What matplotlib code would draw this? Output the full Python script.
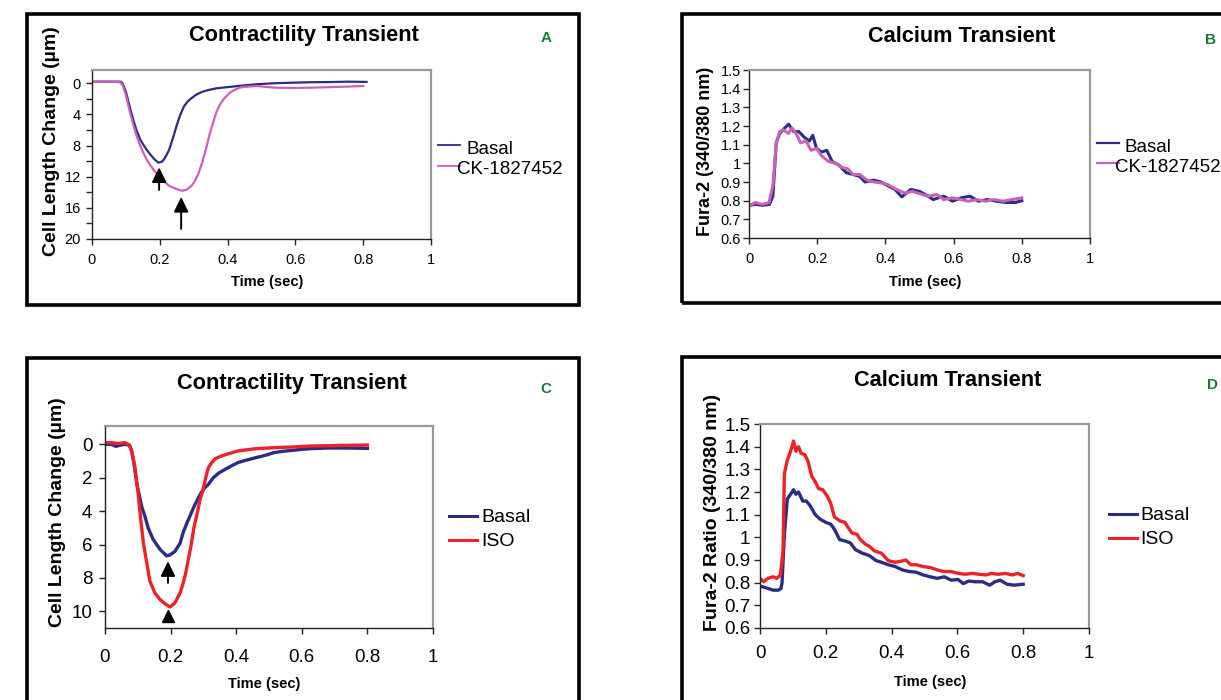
import matplotlib
matplotlib.use('Agg')
import matplotlib.pyplot as plt
from matplotlib.patches import Rectangle
from matplotlib.lines import Line2D

plt.rcParams['font.family'] = ['Liberation Sans', 'DejaVu Sans']

# ---------------- data ----------------
# Panel A: contractility, Basal vs CK-1827452
tA_basal = [0, 0.02, 0.04, 0.06, 0.084, 0.09, 0.1, 0.11, 0.121, 0.131, 0.142, 0.153, 0.164,
            0.175, 0.185, 0.196, 0.205, 0.212, 0.22, 0.228, 0.239, 0.25, 0.26, 0.271, 0.281,
            0.292, 0.31, 0.325, 0.345, 0.367, 0.4, 0.432, 0.485, 0.539, 0.6, 0.646, 0.7, 0.753, 0.81]
vA_basal = [-0.2, -0.2, -0.2, -0.2, -0.2, 0.0, 1.1, 2.8, 4.6, 6.0, 7.2, 8.0, 8.7,
            9.3, 9.8, 10.2, 10.1, 9.8, 9.2, 8.5, 7.0, 5.4, 4.1, 3.0, 2.4,
            1.96, 1.4, 1.1, 0.85, 0.65, 0.5, 0.35, 0.13, 0.0, -0.08, -0.13, -0.15, -0.2, -0.17]
tA_ck = [0, 0.02, 0.04, 0.06, 0.08, 0.09, 0.1, 0.11, 0.121, 0.131, 0.142, 0.153, 0.164, 0.175,
         0.185, 0.196, 0.207, 0.218, 0.228, 0.24, 0.25, 0.266, 0.277, 0.287, 0.295, 0.303,
         0.314, 0.325, 0.336, 0.346, 0.357, 0.367, 0.378, 0.389, 0.4, 0.41, 0.425, 0.442,
         0.485, 0.539, 0.6, 0.646, 0.7, 0.753, 0.8]
vA_ck = [-0.2, -0.2, -0.2, -0.2, -0.2, 0.2, 1.5, 3.4, 5.2, 6.7, 8.0, 9.1, 10.0, 10.7,
         11.3, 11.9, 12.4, 12.8, 13.2, 13.4, 13.6, 13.8, 13.7, 13.4, 13.1, 12.6,
         11.6, 10.2, 8.5, 6.7, 5.1, 3.7, 2.7, 2.0, 1.5, 1.1, 0.75, 0.5,
         0.35, 0.57, 0.6, 0.57, 0.5, 0.43, 0.35]
arrowsA_t = [0.198, 0.263]
arrowsA_tip = [10.8, 14.6]
arrowsA_tail = [13.7, 18.7]

# Panel B: calcium, Basal vs CK-1827452
tB_basal = [0, 0.02, 0.04, 0.06, 0.07, 0.08, 0.09, 0.1, 0.116, 0.131, 0.146, 0.162, 0.177, 0.187,
            0.198, 0.213, 0.228, 0.244, 0.264, 0.285, 0.305, 0.325, 0.34, 0.366, 0.387, 0.407,
            0.428, 0.448, 0.474, 0.5, 0.52, 0.54, 0.571, 0.597, 0.622, 0.648, 0.673, 0.699,
            0.725, 0.755, 0.781, 0.8]
vB_basal = [0.775, 0.78, 0.775, 0.78, 0.824, 1.11, 1.16, 1.18, 1.21, 1.17, 1.17, 1.14, 1.12, 1.15,
            1.08, 1.06, 1.07, 1.01, 0.99, 0.95, 0.94, 0.93, 0.90, 0.91, 0.90, 0.88,
            0.86, 0.82, 0.86, 0.85, 0.83, 0.806, 0.824, 0.797, 0.815, 0.824, 0.797, 0.806,
            0.797, 0.79, 0.79, 0.80]
tB_ck = [0, 0.018, 0.039, 0.059, 0.07, 0.08, 0.09, 0.1, 0.116, 0.126, 0.141, 0.151, 0.167, 0.182,
         0.198, 0.213, 0.233, 0.254, 0.269, 0.29, 0.305, 0.325, 0.346, 0.366, 0.387, 0.407,
         0.433, 0.458, 0.479, 0.499, 0.525, 0.551, 0.571, 0.597, 0.622, 0.643, 0.668, 0.694,
         0.719, 0.745, 0.771, 0.8]
vB_ck = [0.77, 0.79, 0.78, 0.79, 0.88, 1.11, 1.17, 1.18, 1.16, 1.19, 1.15, 1.11, 1.12, 1.07,
         1.08, 1.04, 1.01, 1.0, 0.98, 0.97, 0.94, 0.94, 0.91, 0.90, 0.895, 0.886,
         0.86, 0.84, 0.85, 0.838, 0.824, 0.833, 0.806, 0.815, 0.806, 0.797, 0.806, 0.797,
         0.806, 0.797, 0.806, 0.815]

# Panel C: contractility, Basal vs ISO
tC_basal = [0, 0.02, 0.033, 0.045, 0.06, 0.075, 0.081, 0.088, 0.097, 0.112, 0.122, 0.132, 0.147,
            0.168, 0.188, 0.198, 0.213, 0.229, 0.238, 0.249, 0.26, 0.271, 0.282, 0.293, 0.304,
            0.315, 0.33, 0.348, 0.375, 0.404, 0.43, 0.459, 0.49, 0.514, 0.54, 0.57, 0.6,
            0.625, 0.68, 0.735, 0.8]
vC_basal = [0.0, 0.0, 0.12, 0.05, 0.0, 0.05, 0.4, 1.1, 2.35, 3.74, 4.33, 5.03, 5.7,
            6.3, 6.68, 6.62, 6.42, 5.92, 5.3, 4.75, 4.25, 3.75, 3.3, 2.9, 2.6,
            2.4, 2.0, 1.7, 1.4, 1.1, 0.95, 0.8, 0.65, 0.5, 0.42, 0.36, 0.3,
            0.26, 0.22, 0.22, 0.24]
tC_iso = [0, 0.02, 0.04, 0.06, 0.072, 0.081, 0.091, 0.101, 0.108, 0.117, 0.129, 0.137, 0.152,
          0.168, 0.183, 0.198, 0.213, 0.229, 0.237, 0.245, 0.253, 0.262, 0.271, 0.282, 0.29,
          0.299, 0.307, 0.315, 0.325, 0.337, 0.355, 0.37, 0.404, 0.43, 0.459, 0.514, 0.57,
          0.625, 0.68, 0.735, 0.8]
vC_iso = [-0.1, -0.1, -0.05, -0.1, 0.0, 0.36, 1.35, 2.94, 4.33, 5.9, 7.3, 8.2, 8.9,
          9.3, 9.55, 9.74, 9.5, 8.9, 8.4, 7.8, 7.0, 6.1, 5.0, 4.05, 3.3,
          2.7, 2.0, 1.4, 1.1, 0.85, 0.7, 0.6, 0.4, 0.33, 0.26, 0.2, 0.16,
          0.1, 0.08, 0.06, 0.04]
arrowC_t = 0.192
arrowC_tip = 7.0
arrowC_tail = 8.3
triC_t = 0.192
triC_v = 10.3

# Panel D: calcium, Basal vs ISO
tD_basal = [0, 0.019, 0.04, 0.056, 0.064, 0.067, 0.074, 0.083, 0.093, 0.102, 0.109, 0.117, 0.13,
            0.141, 0.152, 0.168, 0.183, 0.2, 0.215, 0.226, 0.242, 0.258, 0.274, 0.29, 0.311,
            0.332, 0.353, 0.369, 0.39, 0.411, 0.433, 0.454, 0.475, 0.496, 0.517, 0.539, 0.56,
            0.581, 0.602, 0.618, 0.634, 0.655, 0.677, 0.698, 0.714, 0.73, 0.751, 0.772, 0.793, 0.8]
vD_basal = [0.785, 0.777, 0.767, 0.767, 0.775, 0.80, 1.01, 1.17, 1.19, 1.21, 1.19, 1.2, 1.16,
            1.16, 1.14, 1.10, 1.08, 1.066, 1.058, 1.036, 0.99, 0.984, 0.976, 0.946, 0.93,
            0.92, 0.897, 0.89, 0.879, 0.871, 0.856, 0.849, 0.846, 0.834, 0.826, 0.819, 0.826,
            0.811, 0.814, 0.796, 0.807, 0.804, 0.804, 0.789, 0.804, 0.811, 0.793, 0.789, 0.792, 0.793]
tD_iso = [0, 0.011, 0.024, 0.04, 0.051, 0.062, 0.07, 0.074, 0.083, 0.093, 0.102, 0.109, 0.117,
          0.125, 0.136, 0.146, 0.157, 0.168, 0.178, 0.191, 0.205, 0.215, 0.226, 0.242, 0.258,
          0.268, 0.279, 0.295, 0.305, 0.321, 0.332, 0.348, 0.369, 0.39, 0.411, 0.427, 0.443,
          0.459, 0.475, 0.496, 0.517, 0.539, 0.56, 0.581, 0.602, 0.623, 0.645, 0.666, 0.687,
          0.703, 0.724, 0.745, 0.767, 0.783, 0.8]
vD_iso = [0.819, 0.804, 0.819, 0.826, 0.819, 0.834, 0.94, 1.28, 1.34, 1.38, 1.425, 1.38, 1.40,
          1.37, 1.365, 1.335, 1.27, 1.245, 1.215, 1.21, 1.18, 1.15, 1.09, 1.073, 1.066,
          1.043, 1.02, 1.013, 0.99, 0.969, 0.961, 0.94, 0.93, 0.897, 0.89, 0.894, 0.90,
          0.879, 0.879, 0.871, 0.867, 0.856, 0.849, 0.849, 0.841, 0.837, 0.841, 0.837, 0.834,
          0.841, 0.837, 0.841, 0.834, 0.841, 0.831]

x_ticks = [0, 0.2, 0.4, 0.6, 0.8, 1]
x_ticklabels = ['0', '0.2', '0.4', '0.6', '0.8', '1']
yA_ticks = [0, 4, 8, 12, 16, 20]
yA_minor = [2, 6, 10, 14, 18]
yC_ticks = [0, 2, 4, 6, 8, 10]
yCa_ticks = [0.6, 0.7, 0.8, 0.9, 1.0, 1.1, 1.2, 1.3, 1.4, 1.5]
yCa_ticklabels = ['0.6', '0.7', '0.8', '0.9', '1', '1.1', '1.2', '1.3', '1.4', '1.5']

NAVY = '#2b2c84'
MAGENTA = '#c960b9'
RED = '#ee2028'
GREEN = '#1b7a3a'

# ---------------- figure ----------------
W, H = 1221, 700
fig = plt.figure(figsize=(W / 100, H / 100), dpi=100)


def fx(x):
    return x / W


def fy(y):
    return 1 - y / H


def add_axes(x0, y0, x1, y1):
    return fig.add_axes([fx(x0), fy(y1), fx(x1) - fx(x0), fy(y0) - fy(y1)])


def style(ax, fs, xpad, ypad):
    for s in ['left', 'bottom']:
        ax.spines[s].set_color('#222222')
        ax.spines[s].set_linewidth(1.0)
    for s in ['top', 'right']:
        ax.spines[s].set_color('#999999')
        ax.spines[s].set_linewidth(1.6)
    ax.tick_params(which='both', direction='out', length=4, width=1, labelsize=fs,
                   top=False, right=False, colors='#222222', labelcolor='black')
    ax.tick_params(axis='x', pad=xpad)
    ax.tick_params(axis='y', pad=ypad)
    ax.set_xlim(0, 1)
    ax.set_xticks(x_ticks)
    ax.set_xticklabels(x_ticklabels)


def box(x0, y0, x1, y1):
    fig.patches.append(Rectangle((fx(x0), fy(y1)), fx(x1) - fx(x0), fy(y0) - fy(y1),
                                 transform=fig.transFigure, fill=False, lw=2.6,
                                 edgecolor='black', clip_on=False))


def ftext(x, y, s, **kw):
    kw.setdefault('ha', 'center')
    fig.text(fx(x), fy(y), s, va='center', **kw)


def legend_entry(x0, x1, y, tx, ty, label, color, lw, fs):
    fig.add_artist(Line2D([fx(x0), fx(x1)], [fy(y), fy(y)], transform=fig.transFigure,
                          color=color, lw=lw))
    ftext(tx, ty, label, fontsize=fs, ha='left')


# outer frames
box(27, 14, 579, 305)
box(682, 14, 1230, 303)
box(27, 358, 579, 710)
box(682, 357, 1230, 710)

arrow_style = '-|>,head_length=0.45,head_width=0.22'

# ---- Panel A ----
axA = add_axes(92, 70, 431, 239)
style(axA, 10.5, 6, 4)
axA.set_ylim(20, -1.7)
axA.set_yticks(yA_ticks)
axA.set_yticks(yA_minor, minor=True)
axA.plot(tA_basal, vA_basal, color=NAVY, lw=1.6)
axA.plot(tA_ck, vA_ck, color=MAGENTA, lw=1.6)
for t, tip, tail in zip(arrowsA_t, arrowsA_tip, arrowsA_tail):
    axA.annotate('', xy=(t, tip), xytext=(t, tail),
                 arrowprops=dict(arrowstyle=arrow_style, color='black', lw=1.4,
                                 mutation_scale=20, shrinkA=0, shrinkB=0))
legend_entry(438, 460, 145, 467, 149, 'Basal', NAVY, 1.3, 13.5)
legend_entry(438, 460, 166, 457, 170, 'CK-1827452', MAGENTA, 1.3, 13.5)
ftext(304, 36, 'Contractility Transient', fontsize=15.7, fontweight='bold')
ftext(546, 38, 'A', fontsize=11, fontweight='bold', color=GREEN)
ftext(52, 141, 'Cell Length Change (µm)', fontsize=14, fontweight='bold', rotation=90)
ftext(267, 282, 'Time (sec)', fontsize=10.5, fontweight='bold')

# ---- Panel B ----
axB = add_axes(749, 70, 1090, 238)
style(axB, 10.5, 6, 2)
axB.set_ylim(0.6, 1.5)
axB.set_yticks(yCa_ticks)
axB.set_yticklabels(yCa_ticklabels)
axB.plot(tB_basal, vB_basal, color=NAVY, lw=2.2)
axB.plot(tB_ck, vB_ck, color=MAGENTA, lw=2.2)
legend_entry(1097, 1119, 143, 1125, 147, 'Basal', NAVY, 1.6, 13.5)
legend_entry(1097, 1119, 163, 1115, 167, 'CK-1827452', MAGENTA, 1.6, 13.5)
ftext(962, 36, 'Calcium Transient', fontsize=15.7, fontweight='bold')
ftext(1210, 40, 'B', fontsize=11, fontweight='bold', color=GREEN)
ftext(706, 151, 'Fura-2 (340/380 nm)', fontsize=13, fontweight='bold', rotation=90)
ftext(925, 282, 'Time (sec)', fontsize=10.5, fontweight='bold')

# ---- Panel C ----
axC = add_axes(105, 426, 433, 628)
style(axC, 13.5, 11, 5)
axC.set_ylim(11.0, -1.1)
axC.set_yticks(yC_ticks)
axC.plot(tC_basal, vC_basal, color=NAVY, lw=2.4)
axC.plot(tC_iso, vC_iso, color=RED, lw=2.4)
axC.annotate('', xy=(arrowC_t, arrowC_tip), xytext=(arrowC_t, arrowC_tail),
             arrowprops=dict(arrowstyle=arrow_style, color='black', lw=1.4,
                             mutation_scale=20, shrinkA=0, shrinkB=0))
axC.plot([triC_t], [triC_v], marker='^', markersize=9, color='black', linestyle='none')
legend_entry(449, 477, 516, 481, 518, 'Basal', NAVY, 2.2, 14)
legend_entry(449, 477, 540, 481, 542, 'ISO', RED, 2.2, 14)
ftext(292, 384, 'Contractility Transient', fontsize=15.7, fontweight='bold')
ftext(546, 389, 'C', fontsize=11, fontweight='bold', color=GREEN)
ftext(57, 512, 'Cell Length Change (µm)', fontsize=14, fontweight='bold', rotation=90)
ftext(264, 684, 'Time (sec)', fontsize=10.5, fontweight='bold')

# ---- Panel D ----
axD = add_axes(760, 424, 1089, 628)
style(axD, 13.5, 8, 3)
axD.set_ylim(0.6, 1.5)
axD.set_yticks(yCa_ticks)
axD.set_yticklabels(yCa_ticklabels)
axD.plot(tD_basal, vD_basal, color=NAVY, lw=2.4)
axD.plot(tD_iso, vD_iso, color=RED, lw=2.4)
legend_entry(1109, 1137, 514, 1140, 516, 'Basal', NAVY, 2.2, 14)
legend_entry(1109, 1137, 538, 1140, 540, 'ISO', RED, 2.2, 14)
ftext(948, 381, 'Calcium Transient', fontsize=15.7, fontweight='bold')
ftext(1213, 385, 'D', fontsize=11, fontweight='bold', color=GREEN)
ftext(712, 512, 'Fura-2 Ratio (340/380 nm)', fontsize=14, fontweight='bold', rotation=90)
ftext(930, 682, 'Time (sec)', fontsize=10.5, fontweight='bold')

fig.savefig('out.png', dpi=100)
